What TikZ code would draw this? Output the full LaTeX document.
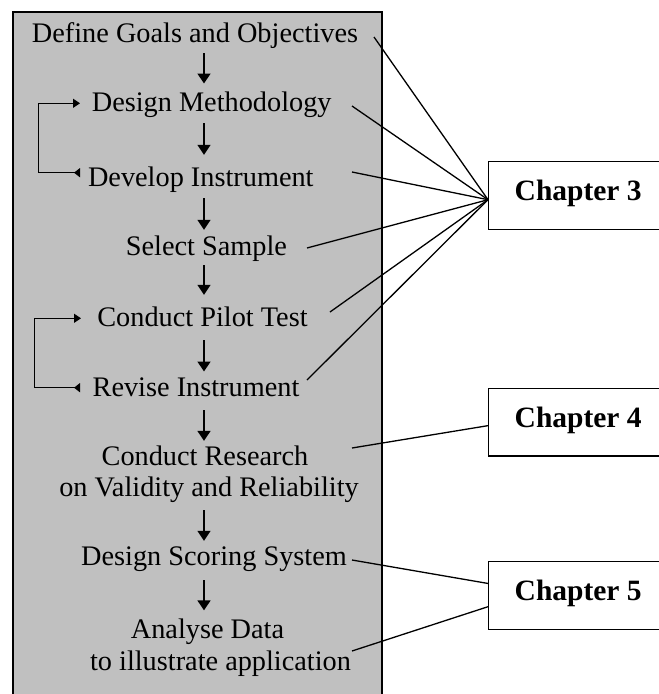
\documentclass[tikz,border=0pt]{standalone}
\usepackage{fontspec}
\setmainfont{Liberation Serif}
\usetikzlibrary{arrows.meta}
\definecolor{boxgray}{RGB}{192,192,192}
\begin{document}
\begin{tikzpicture}[x=1pt,y=-1pt,
  steptext/.style={font=\fontsize{28.3}{31.7}\selectfont, inner sep=0pt, anchor=base},
  stepone/.style={steptext, text height=19pt, text depth=6pt},
  steptwo/.style={steptext, align=center},
  chapbox/.style={draw, fill=white, line width=1.4pt, font=\fontsize{29.5}{34}\selectfont\bfseries,
    anchor=north west, inner xsep=26pt, inner ysep=0pt, minimum height=67.5pt,
    text height=18pt, text depth=8pt},
  flow/.style={line width=1.4pt, -{Triangle[width=13pt,length=10pt]}},
  loopline/.style={line width=1.3pt, {Triangle[reversed,width=9pt,length=6pt]}-{Triangle[width=9pt,length=7pt]}},
  link/.style={line width=1.3pt}]
\useasboundingbox (0,0) rectangle (659,694);
\clip (0,0) rectangle (659,694);

% panel
\node[draw, fill=boxgray, line width=1.5pt, minimum width=369pt, minimum height=720pt,
  inner sep=0pt, anchor=north west] (panel) at (12,11) {};

% steps
\node[stepone] (def) at (195,42.5) {Define Goals and Objectives};
\node[stepone] (des) at (211.7,111.7) {Design Methodology};
\node[stepone] (dev) at (200.8,186.7) {Develop Instrument};
\node[stepone] (sel) at (206.4,255) {Select Sample};
\node[stepone] (pil) at (202.5,326) {Conduct Pilot Test};
\node[stepone] (rev) at (196,396.7) {Revise Instrument};
\node[steptwo] (res) at (209,496.7) {Conduct Research\hspace*{8pt}\\on Validity and Reliability};
\node[stepone] (sco) at (214,565.7) {Design Scoring System};
\node[steptwo] (ana) at (220.5,670.5) {Analyse Data\hspace*{26pt}\\to illustrate application};

% flow arrows
\coordinate (col) at (204,0);
\draw[flow, shorten <=4.5pt, shorten >=9pt] (def.south -| col) -- (des.north -| col);
\draw[flow, shorten <=5.3pt, shorten >=12.7pt] (des.south -| col) -- (dev.north -| col);
\draw[flow, shorten <=5.3pt, shorten >=6pt] (dev.south -| col) -- (sel.north -| col);
\draw[flow, shorten <=4pt, shorten >=12pt] (sel.south -| col) -- (pil.north -| col);
\draw[flow, shorten <=8pt, shorten >=6pt] (pil.south -| col) -- (rev.north -| col);
\draw[flow, shorten <=7.3pt, shorten >=4.3pt] (rev.south -| col) -- (res.north -| col);
\draw[flow, shorten <=7.3pt, shorten >=5.7pt] (res.south -| col) -- (sco.north -| col);
\draw[flow, shorten <=8.3pt, shorten >=8.6pt] (sco.south -| col) -- (ana.north -| col);

% feedback loops
\coordinate (l1a) at (80,172.7);
\coordinate (l1b) at (80,103.3);
\coordinate (l1x) at (38.3,0);
\draw[loopline] (l1a) -- (l1a -| l1x) |- (l1b);
\coordinate (l2a) at (80,387.7);
\coordinate (l2b) at (81,318.3);
\coordinate (l2x) at (34.3,0);
\draw[loopline] (l2a) -- (l2a -| l2x) |- (l2b);

% chapter boxes
\node[chapbox] (ch3) at (488,161) {Chapter 3};
\node[chapbox] (ch4) at (488,387.7) {Chapter 4};
\node[chapbox] (ch5) at (488,561) {Chapter 5};

% links
\coordinate (f1) at (374,37);
\coordinate (f2) at (352,106);
\coordinate (f3) at (352,172);
\coordinate (f4) at (307,248);
\coordinate (f5) at (330,312);
\coordinate (f6) at (307,380);
\coordinate (g1) at (352,448);
\coordinate (h1) at (352,560);
\coordinate (h2) at (352,651);
\foreach \p in {f1,f2,f3,f4,f5,f6}
  \draw[link] (\p) -- ([yshift=-4.25pt]ch3.west);
\draw[link] (g1) -- ([yshift=-3.5pt]ch4.west);
\draw[link] (h1) -- ([yshift=12pt]ch5.west);
\draw[link] (h2) -- ([yshift=-11.25pt]ch5.west);
\end{tikzpicture}
\end{document}
